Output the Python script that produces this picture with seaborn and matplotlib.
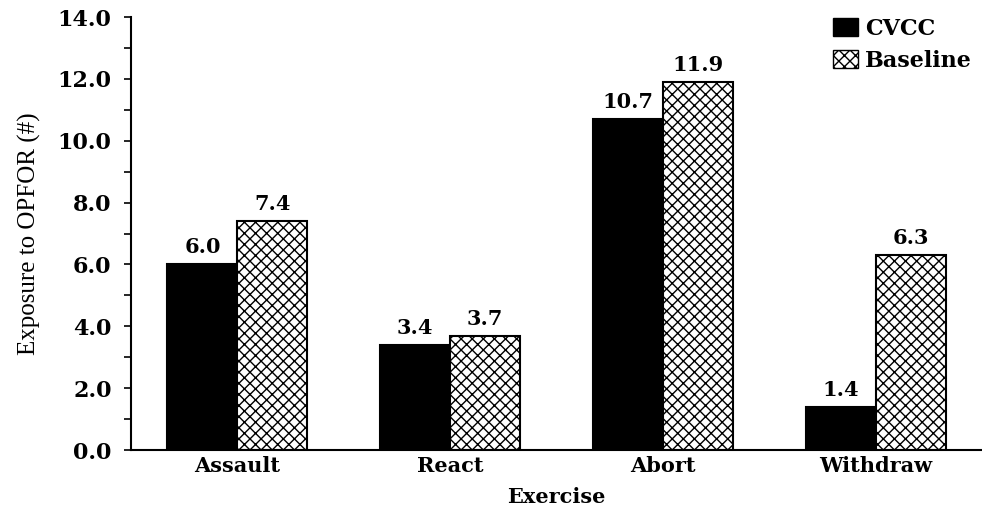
import matplotlib
matplotlib.use("Agg")
import matplotlib.pyplot as plt
import seaborn as sns
import pandas as pd
from matplotlib.patches import Patch
from matplotlib.ticker import MultipleLocator

exercises = ["Assault", "React", "Abort", "Withdraw"]
cvcc = [6.0, 3.4, 10.7, 1.4]
baseline = [7.4, 3.7, 11.9, 6.3]
series = ["CVCC", "Baseline"]
yticks = [0, 2, 4, 6, 8, 10, 12, 14]

df = pd.DataFrame({
    "Exercise": exercises * 2,
    "Value": cvcc + baseline,
    "Series": [series[0]] * 4 + [series[1]] * 4,
})

sns.set_style("white")
plt.rcParams["hatch.linewidth"] = 1.0
plt.rcParams["text.color"] = "black"
plt.rcParams["xtick.color"] = "black"
plt.rcParams["ytick.color"] = "black"
plt.rcParams["axes.labelcolor"] = "black"
serif = ["DejaVu Serif"]
HATCH = "xxx"

fig = plt.figure(figsize=(9.82, 5.09), dpi=100)
ax = fig.add_axes([0.1334, 0.1159, 0.8666, 0.8507])

sns.barplot(data=df, x="Exercise", y="Value", hue="Series", order=exercises,
            hue_order=series, palette=["black", "white"], edgecolor="black",
            linewidth=1.5, width=0.657, ax=ax, legend=False, errorbar=None)

for bar_container, s in zip(ax.containers, series):
    for p in bar_container:
        if s == "Baseline":
            p.set_hatch(HATCH)
    ax.bar_label(bar_container, fmt="%.1f", padding=5,
                 fontsize=15, fontweight="bold", family=serif, color="black")

ax.set_xlim(-0.5, 3.5)
ax.set_ylim(0, 14)
ax.set_yticks(yticks)
ax.set_yticklabels([f"{v:.1f}" for v in yticks], fontsize=16,
                   fontweight="bold", family=serif)
ax.yaxis.set_minor_locator(MultipleLocator(1))
ax.tick_params(axis="y", which="both", direction="out", length=5, width=1.2,
               left=True, pad=9)
ax.tick_params(axis="x", length=0, pad=4)
for lab in ax.get_xticklabels():
    lab.set_fontsize(15)
    lab.set_fontweight("bold")
    lab.set_family(serif)

ax.set_xlabel("Exercise", fontsize=15, fontweight="bold", family=serif, labelpad=8)
ax.set_ylabel("Exposure to OPFOR (#)", fontsize=18, family=["Liberation Serif"],
              labelpad=12)

sns.despine(ax=ax)
for sp in ["left", "bottom"]:
    ax.spines[sp].set_linewidth(1.5)
    ax.spines[sp].set_color("black")

handles = [Patch(facecolor="black", edgecolor="black"),
           Patch(facecolor="white", edgecolor="black", hatch=HATCH)]
ax.legend(handles, series, loc="upper right", bbox_to_anchor=(1.012, 1.045),
          frameon=False, handlelength=1.1, handleheight=0.9, handletextpad=0.35,
          labelspacing=0.45, prop={"family": serif, "weight": "bold", "size": 16})

fig.savefig("out.png", dpi=100)
